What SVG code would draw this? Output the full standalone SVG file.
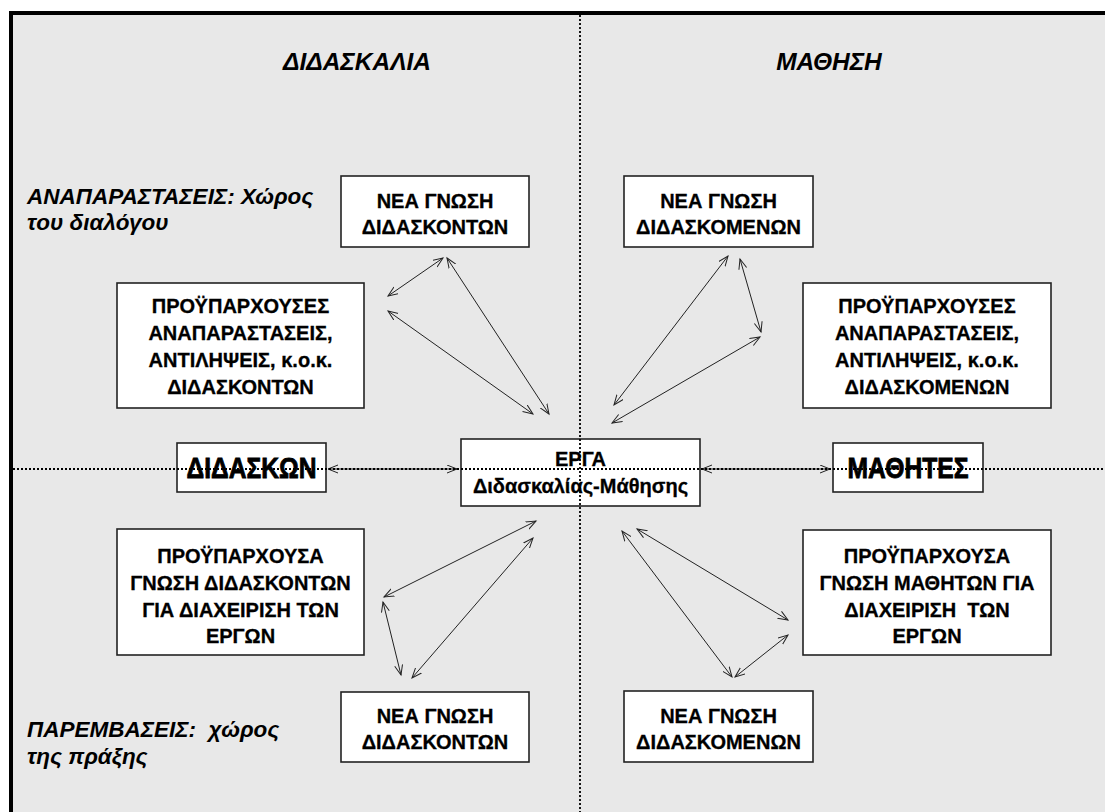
<svg xmlns="http://www.w3.org/2000/svg" width="1105" height="812" viewBox="0 0 1105 812">
<style>
.box{fill:#fff;stroke:#222;stroke-width:1.6}
.bt{font-family:"Liberation Sans",Arial,sans-serif;font-weight:bold;font-size:20px;fill:#000;stroke:#000;stroke-width:0.3;text-anchor:middle}
.big{font-family:"Liberation Sans",Arial,sans-serif;font-weight:bold;font-size:29px;fill:#000;stroke:#000;stroke-width:0.8;text-anchor:middle}
.ttl{font-family:"Liberation Sans",Arial,sans-serif;font-weight:bold;font-style:italic;font-size:24.5px;fill:#000;text-anchor:middle}
.lbl{font-family:"Liberation Sans",Arial,sans-serif;font-weight:bold;font-style:italic;font-size:22.5px;fill:#000}
.arr{stroke:#222;stroke-width:1;fill:none;marker-start:url(#ah);marker-end:url(#ah)}
.dot{stroke:#000;stroke-width:1.8;stroke-dasharray:2 2;fill:none}
</style>
<defs>
<marker id="ah" markerUnits="userSpaceOnUse" markerWidth="12" markerHeight="10" refX="10" refY="4.5" orient="auto-start-reverse" viewBox="0 0 12 10">
<path d="M0,0.5 L10,4.5 L0,8.5" fill="none" stroke="#222" stroke-width="1"/>
</marker>
</defs>
<rect x="0" y="0" width="1105" height="812" fill="#fff"/>
<rect x="11" y="13" width="1200" height="900" fill="#e8e8e8" stroke="#000" stroke-width="4"/>

<g id="titles">
<text class="ttl" x="357" y="70">ΔΙΔΑΣΚΑΛΙΑ</text>
<text class="ttl" x="829" y="70">ΜΑΘΗΣΗ</text>
<text class="lbl" x="27" y="204">ΑΝΑΠΑΡΑΣΤΑΣΕΙΣ: Χώρος</text>
<text class="lbl" x="27" y="230">του διαλόγου</text>
<text class="lbl" x="27" y="737" xml:space="preserve">ΠΑΡΕΜΒΑΣΕΙΣ:  χώρος</text>
<text class="lbl" x="27" y="764">της πράξης</text>
</g>

<g id="connectors">
<line class="arr" x1="443" y1="258" x2="388" y2="296"/>
<line class="arr" x1="447" y1="258" x2="549" y2="414"/>
<line class="arr" x1="388" y1="311" x2="533" y2="414"/>
<line class="arr" x1="728" y1="256" x2="614" y2="405"/>
<line class="arr" x1="740" y1="259" x2="761" y2="332"/>
<line class="arr" x1="760" y1="337" x2="612" y2="423"/>
<line class="arr" x1="536" y1="521" x2="384" y2="597"/>
<line class="arr" x1="383" y1="602" x2="401" y2="675"/>
<line class="arr" x1="533" y1="538" x2="412" y2="678"/>
<line class="arr" x1="622" y1="531" x2="732" y2="677"/>
<line class="arr" x1="637" y1="529" x2="788" y2="620"/>
<line class="arr" x1="788" y1="635" x2="735" y2="677"/>
<line class="arr" x1="328" y1="469" x2="457" y2="469"/>
<line class="arr" x1="702" y1="469" x2="830" y2="469"/>
</g>

<g id="n-nea-didaskonton-top">
<rect class="box" x="341" y="176" width="188" height="71"/>
<text class="bt" x="435" y="208">ΝΕΑ ΓΝΩΣΗ</text>
<text class="bt" x="435" y="234">ΔΙΔΑΣΚΟΝΤΩΝ</text>
</g>
<g id="n-nea-didaskomenon-top">
<rect class="box" x="624" y="176" width="189" height="71"/>
<text class="bt" x="718.5" y="208">ΝΕΑ ΓΝΩΣΗ</text>
<text class="bt" x="718.5" y="234">ΔΙΔΑΣΚΟΜΕΝΩΝ</text>
</g>
<g id="n-proyp-didaskonton">
<rect class="box" x="117" y="283" width="247" height="125"/>
<text class="bt" x="240.5" y="313">ΠΡΟΫΠΑΡΧΟΥΣΕΣ</text>
<text class="bt" x="240.5" y="340">ΑΝΑΠΑΡΑΣΤΑΣΕΙΣ,</text>
<text class="bt" x="240.5" y="367">ΑΝΤΙΛΗΨΕΙΣ, κ.ο.κ.</text>
<text class="bt" x="240.5" y="394">ΔΙΔΑΣΚΟΝΤΩΝ</text>
</g>
<g id="n-proyp-didaskomenon">
<rect class="box" x="803" y="283" width="248" height="125"/>
<text class="bt" x="927" y="313">ΠΡΟΫΠΑΡΧΟΥΣΕΣ</text>
<text class="bt" x="927" y="340">ΑΝΑΠΑΡΑΣΤΑΣΕΙΣ,</text>
<text class="bt" x="927" y="367">ΑΝΤΙΛΗΨΕΙΣ, κ.ο.κ.</text>
<text class="bt" x="927" y="394">ΔΙΔΑΣΚΟΜΕΝΩΝ</text>
</g>
<g id="n-didaskon">
<rect class="box" x="177" y="443" width="149" height="49"/>
<text class="big" x="251.5" y="478" textLength="130" lengthAdjust="spacingAndGlyphs">ΔΙΔΑΣΚΩΝ</text>
</g>
<g id="n-erga">
<rect class="box" x="461" y="439" width="239" height="67"/>
<text class="bt" x="580.5" y="466">ΕΡΓΑ</text>
<text class="bt" x="580.5" y="493">Διδασκαλίας-Μάθησης</text>
</g>
<g id="n-mathites">
<rect class="box" x="833" y="443" width="150" height="49"/>
<text class="big" x="908" y="478" textLength="121" lengthAdjust="spacingAndGlyphs">ΜΑΘΗΤΕΣ</text>
</g>
<g id="n-proyp-gnosi-didaskonton">
<rect class="box" x="117" y="529" width="247" height="126"/>
<text class="bt" x="240.5" y="563">ΠΡΟΫΠΑΡΧΟΥΣΑ</text>
<text class="bt" x="240.5" y="590">ΓΝΩΣΗ ΔΙΔΑΣΚΟΝΤΩΝ</text>
<text class="bt" x="240.5" y="617">ΓΙΑ ΔΙΑΧΕΙΡΙΣΗ ΤΩΝ</text>
<text class="bt" x="240.5" y="643">ΕΡΓΩΝ</text>
</g>
<g id="n-proyp-gnosi-mathiton">
<rect class="box" x="803" y="530" width="248" height="125"/>
<text class="bt" x="927" y="563">ΠΡΟΫΠΑΡΧΟΥΣΑ</text>
<text class="bt" x="927" y="590">ΓΝΩΣΗ ΜΑΘΗΤΩΝ ΓΙΑ</text>
<text class="bt" x="927" y="617" xml:space="preserve">ΔΙΑΧΕΙΡΙΣΗ  ΤΩΝ</text>
<text class="bt" x="927" y="643">ΕΡΓΩΝ</text>
</g>
<g id="n-nea-didaskonton-bottom">
<rect class="box" x="341" y="692" width="188" height="70"/>
<text class="bt" x="435" y="723">ΝΕΑ ΓΝΩΣΗ</text>
<text class="bt" x="435" y="749">ΔΙΔΑΣΚΟΝΤΩΝ</text>
</g>
<g id="n-nea-didaskomenon-bottom">
<rect class="box" x="624" y="691" width="189" height="71"/>
<text class="bt" x="718.5" y="723">ΝΕΑ ΓΝΩΣΗ</text>
<text class="bt" x="718.5" y="749">ΔΙΔΑΣΚΟΜΕΝΩΝ</text>
</g>

<g id="axes">
<line class="dot" x1="580" y1="15" x2="580" y2="812"/>
<line class="dot" x1="13" y1="469" x2="1105" y2="469"/>
</g>
</svg>
